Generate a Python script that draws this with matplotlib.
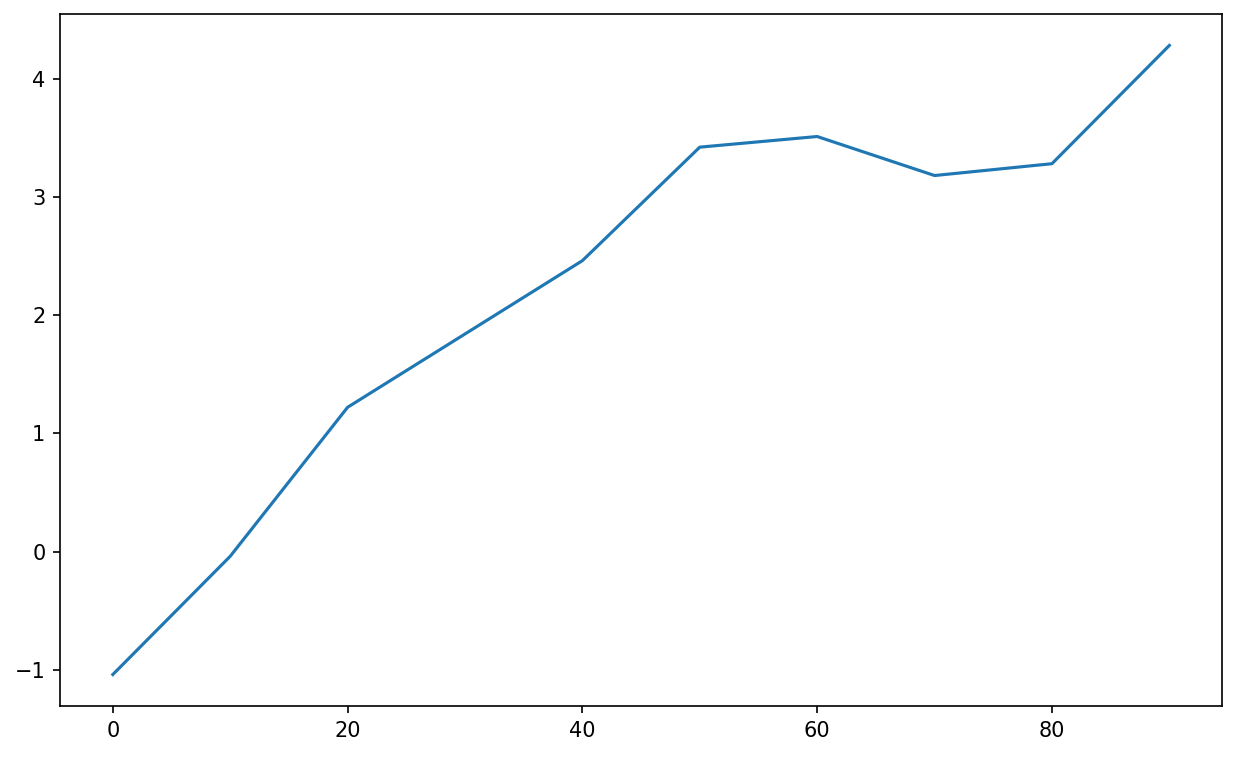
import matplotlib
matplotlib.use('Agg')
import matplotlib.pyplot as plt

# values
x_values = [0, 10, 20, 30, 40, 50, 60, 70, 80, 90]
y_values = [-1.04, -0.04, 1.22, 1.84, 2.46, 3.42, 3.51, 3.18, 3.28, 4.28]

fig, ax = plt.subplots(figsize=(1237 / 150, 757 / 150), dpi=150)
fig.subplots_adjust(left=0.0485, right=0.988, top=0.9815, bottom=0.0674)

ax.plot(x_values, y_values, color='#1f77b4')
ax.set_xticks([0, 20, 40, 60, 80])
ax.set_yticks([-1, 0, 1, 2, 3, 4])

fig.savefig('out.png', dpi=150)
